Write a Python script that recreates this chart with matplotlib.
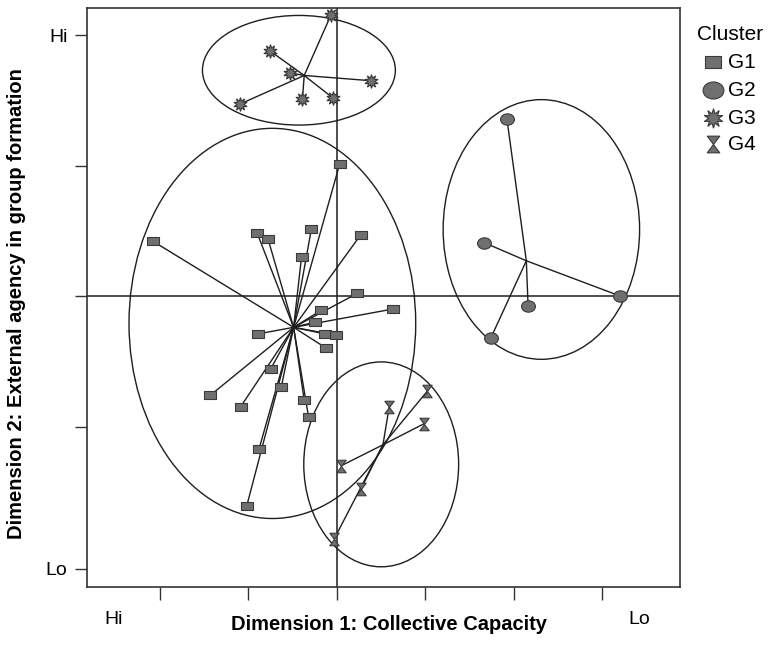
import matplotlib.pyplot as plt
import matplotlib.path as mpath
from matplotlib.patches import Ellipse
from matplotlib.lines import Line2D

# cluster members (Dimension 1, Dimension 2)
g1_x = [0.03, -2.08, -0.90, -0.78, -0.29, -0.40, 0.27, 0.23, 0.63, -0.18, -0.25, -0.89,
        -0.14, -0.01, -0.12, -0.75, -0.63, -1.43, -1.09, -0.37, -0.32, -0.88, -1.02]
g1_y = [1.01, 0.42, 0.48, 0.44, 0.51, 0.30, 0.47, 0.02, -0.10, -0.11, -0.20, -0.29,
        -0.29, -0.30, -0.40, -0.56, -0.70, -0.76, -0.85, -0.80, -0.93, -1.17, -1.61]
g2_x = [1.92, 1.66, 3.20, 2.16, 1.74]
g2_y = [1.36, 0.41, 0.00, -0.08, -0.32]
g3_x = [-0.07, -0.76, -0.53, 0.38, -0.39, -0.05, -1.10]
g3_y = [2.15, 1.88, 1.71, 1.65, 1.51, 1.52, 1.47]
g4_x = [1.02, 0.59, 0.98, 0.05, 0.27, -0.03]
g4_y = [-0.73, -0.85, -0.98, -1.30, -1.48, -1.86]

# centroids (hub of each spider)
centroids = {'G1': (-0.49, -0.24), 'G2': (2.14, 0.27), 'G3': (-0.37, 1.69), 'G4': (0.52, -1.14)}
# confidence ellipses: centre x, centre y, width, height
ellipses = {'G1': (-0.73, -0.21, 3.24, 2.99), 'G2': (2.31, 0.51, 2.22, 1.99),
            'G3': (-0.43, 1.73, 2.18, 0.84), 'G4': (0.50, -1.29, 1.75, 1.57)}

x_ticks = [-2, -1, 0, 1, 2, 3]
y_ticks = [2, 1, 0, -1, -2.09]
y_tick_labels = ['Hi', '', '', '', 'Lo']

# marker shapes
rect = mpath.Path([(-1, -0.7), (1, -0.7), (1, 0.7), (-1, 0.7), (-1, -0.7)],
                  [1, 2, 2, 2, 79])
circ = mpath.Path.unit_circle()
oval = mpath.Path(circ.vertices * [1, 0.82], circ.codes)
hourglass = mpath.Path([(-0.75, 1), (0.75, 1), (0, 0), (0.75, -1), (-0.75, -1), (0, 0), (-0.75, 1)])
star = (10, 1, 0)

groups = [('G1', g1_x, g1_y, rect, 8.5), ('G2', g2_x, g2_y, oval, 10),
          ('G3', g3_x, g3_y, star, 10), ('G4', g4_x, g4_y, hourglass, 9)]

fill = '#6f6f6f'
edge = '#3a3a3a'
ink = '#1e1e1e'
font = ['Liberation Sans Narrow', 'Liberation Sans', 'DejaVu Sans']

fig = plt.figure(figsize=(7.69, 6.46), dpi=100)
ax = fig.add_axes([0.1131, 0.0913, 0.7711, 0.8963])
ax.set_xlim(-2.825, 3.876)
ax.set_ylim(-2.23, 2.207)

ax.axhline(0, color=ink, lw=1.1, zorder=1)
ax.axvline(0, color=ink, lw=1.1, zorder=1)

for name, (cx, cy, w, h) in ellipses.items():
    ax.add_patch(Ellipse((cx, cy), w, h, fill=False, ec=ink, lw=1.0, zorder=2))

for name, xs, ys, mk, ms in groups:
    cx, cy = centroids[name]
    for x, y in zip(xs, ys):
        ax.plot([cx, x], [cy, y], color=ink, lw=1.0, zorder=3)
    ax.plot(xs, ys, ls='none', marker=mk, ms=ms, mfc=fill, mec=edge, mew=0.8, zorder=4)

for s in ax.spines.values():
    s.set_linewidth(1.2)
    s.set_color('#333333')

ax.set_xticks(x_ticks)
ax.set_xticklabels([])
ax.set_yticks(y_ticks)
ax.set_yticklabels(y_tick_labels, fontsize=14, family=font)
ax.tick_params(axis='both', length=9, width=1.0, color='#333333', pad=5)

ax.text(-2.52, -2.48, 'Hi', fontsize=14, family=font, ha='center', va='center', clip_on=False)
ax.text(3.42, -2.48, 'Lo', fontsize=14, family=font, ha='center', va='center', clip_on=False)

fig.text(0.5065, 0.018, 'Dimension 1: Collective Capacity', fontsize=14.5, fontweight='bold',
         family=font, ha='center', va='bottom')
fig.text(0.022, 0.53, 'Dimension 2: External agency in group formation', fontsize=14.5,
         fontweight='bold', family=font, rotation=90, ha='center', va='center')

# legend drawn by hand to the right of the frame
fig.text(697 / 769, 1 - 35 / 646, 'Cluster', fontsize=15, family=font, ha='left', va='center')
row_y = [62, 90, 118, 144]
leg_ms = [12, 15, 14, 12]
for (name, xs, ys, mk, ms), py, lms in zip(groups, row_y, leg_ms):
    fig.add_artist(Line2D([713 / 769], [1 - py / 646], transform=fig.transFigure, ls='none',
                          marker=mk, ms=lms, mfc=fill, mec=edge, mew=0.8))
    fig.text(728 / 769, 1 - py / 646, name, fontsize=15, family=font, ha='left', va='center')

fig.savefig('out.png', dpi=100)
